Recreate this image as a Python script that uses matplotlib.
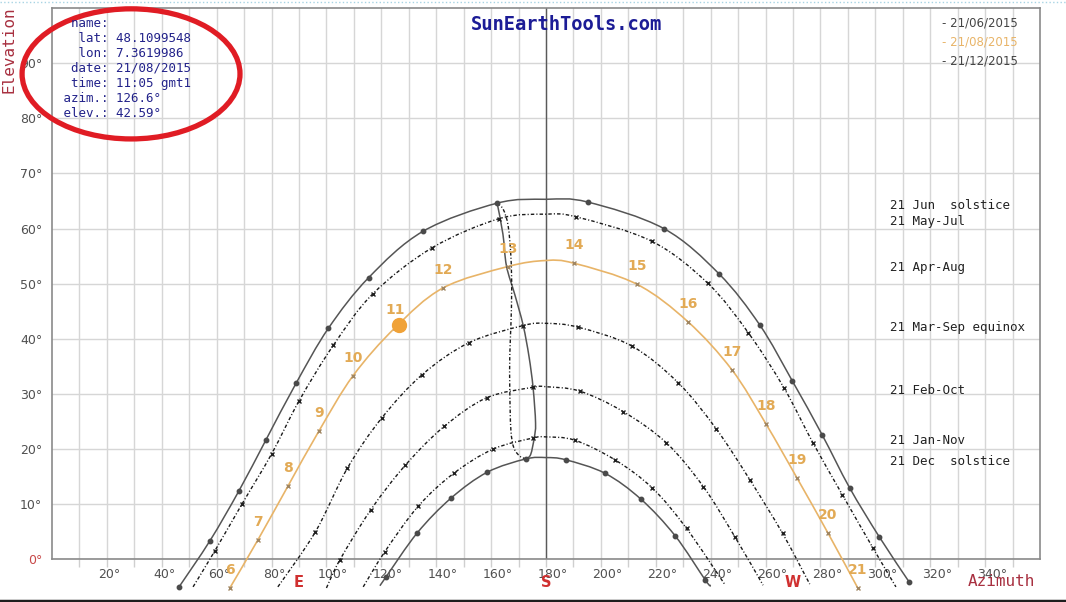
import numpy as np
import matplotlib.pyplot as plt
from matplotlib.path import Path
from matplotlib.patches import PathPatch, Ellipse
from matplotlib.transforms import ScaledTranslation
from matplotlib.lines import Line2D

# ---- data (azimuth deg, elevation deg) ----
# hourly points of each sun path
jun_az = [46.3, 57.6, 68.1, 78.0, 88.9, 100.7, 115.4, 135.2, 162.2, 195.2, 222.9, 243.0, 257.9, 269.7, 280.6, 290.6, 301.4, 312.3]
jun_el = [-5.0, 3.4, 12.4, 21.7, 31.9, 41.9, 51.1, 59.5, 64.6, 64.8, 60.0, 51.8, 42.5, 32.4, 22.6, 13.0, 4.1, -4.1]

mayjul_az = [59.3, 69.2, 80.0, 90.1, 102.5, 117.0, 138.5, 163.0, 191.1, 218.5, 238.9, 253.7, 266.7, 277.3, 288.0, 299.2]
mayjul_el = [1.5, 10.0, 19.1, 28.8, 38.8, 48.2, 56.5, 61.8, 62.1, 57.7, 50.1, 41.1, 31.1, 21.1, 11.7, 2.0]

aug_hours = list(range(6, 22))
aug_az = [64.8, 75.0, 86.0, 97.3, 109.7, 125.0, 142.4, 166.1, 190.2, 213.1, 231.7, 247.7, 260.1, 271.4, 282.7, 293.6]
aug_el = [-5.2, 3.5, 13.3, 23.3, 33.3, 42.0, 49.2, 53.1, 53.7, 49.9, 43.1, 34.4, 24.6, 14.8, 4.8, -5.2]

equ_az = [96.0, 107.6, 120.1, 134.9, 152.0, 171.7, 191.7, 211.2, 228.2, 242.1, 254.3, 266.2]
equ_el = [5.0, 16.5, 25.6, 33.5, 39.3, 42.4, 42.1, 38.7, 32.0, 23.6, 14.4, 4.7]

febokt_az = [104.9, 116.2, 128.8, 142.9, 158.4, 175.3, 192.3, 208.1, 223.9, 237.3, 248.8]
febokt_el = [-0.1, 9.0, 17.1, 24.1, 29.3, 31.2, 30.5, 26.8, 21.1, 13.2, 4.1]

jannov_az = [121.3, 133.4, 146.4, 160.8, 175.3, 190.5, 205.1, 218.8, 231.2]
jannov_el = [1.4, 9.6, 15.6, 20.0, 22.0, 21.6, 18.05, 12.9, 5.6]

dec_az = [121.7, 133.1, 145.4, 158.6, 172.6, 187.2, 201.5, 214.6, 227.0, 238.1]
dec_el = [-3.2, 4.8, 11.1, 15.8, 18.2, 18.05, 15.6, 10.9, 4.3, -3.8]

# extra points of the lines: ends below horizon and the noon peak
jun_extra = [(180.0, 65.3)]
mayjul_extra = [(51.4, -5.0), (180.0, 62.6), (307.5, -5.0)]
aug_extra = [(180.0, 54.2)]
equ_extra = [(82.3, -5.0), (180.0, 42.8), (276.1, -4.5)]
febokt_extra = [(100.0, -5.2), (180.0, 31.3), (259.1, -4.7)]
jannov_extra = [(113.4, -5.0), (180.0, 22.2), (245.2, -4.6)]
dec_extra = [(119.5, -4.8), (180.0, 18.45), (240.0, -4.8)]

# analemma at 13:00
ana_solid_az = [162.2, 164.3, 165.6, 168.7, 171.7, 173.8, 175.3, 176.2, 175.7, 174.4, 172.7]
ana_solid_el = [64.6, 59.0, 53.2, 47.9, 42.4, 36.8, 31.1, 24.7, 22.0, 19.0, 18.2]
ana_dot_az = [162.2, 164.4, 166.2, 167.2, 167.5, 167.2, 166.8, 166.8, 167.2, 168.3, 170.5, 172.7]
ana_dot_el = [64.6, 63.5, 60.5, 55.0, 49.0, 42.3, 36.8, 30.8, 23.5, 20.2, 18.7, 18.2]

# current position
now_az, now_el = 126.6, 42.59

side_labels = ["21 Jun  solstice", "21 May-Jul", "21 Apr-Aug", "21 Mar-Sep equinox",
               "21 Feb-Oct", "21 Jan-Nov", "21 Dec  solstice"]
side_label_el = [64.1, 61.2, 52.9, 42.1, 30.7, 21.55, 17.7]

legend_dates = ["21/06/2015", "21/08/2015", "21/12/2015"]
info_lines = ["  name:", "   lat: 48.1099548", "   lon: 7.3619986", "  date: 21/08/2015",
              "  time: 11:05 gmt1", " azim.: 126.6°", " elev.: 42.59°"]

W, H = 1066, 602
fig = plt.figure(figsize=(W / 100, H / 100), dpi=100)
ax = fig.add_axes([52 / W, 1 - 559.3 / H, 988 / W, 551.3 / H])
ax.set_xlim(0, 360)
ax.set_ylim(0, 100)


def fx(px):
    return px / W


def fy(py):
    return 1 - py / H


def smooth_path(xs, ys):
    # Catmull-Rom through the read points, drawn as bezier curves
    pts = np.column_stack([xs, ys]).astype(float)
    verts = [pts[0]]
    codes = [Path.MOVETO]
    n = len(pts)
    for i in range(n - 1):
        p0 = pts[i - 1] if i > 0 else pts[i]
        p1, p2 = pts[i], pts[i + 1]
        p3 = pts[i + 2] if i + 2 < n else pts[i + 1]
        verts += [p1 + (p2 - p0) / 6, p2 - (p3 - p1) / 6, p2]
        codes += [Path.CURVE4] * 3
    return Path(verts, codes)


def draw_line(xs, ys, **kw):
    ax.add_patch(PathPatch(smooth_path(xs, ys), fill=False, clip_on=False, zorder=3, **kw))


def merged(az, el, extra):
    pts = sorted(list(zip(az, el)) + extra)
    return [p[0] for p in pts], [p[1] for p in pts]


solid = dict(edgecolor='#555555', linewidth=1.1)
dashdot = dict(edgecolor='#1a1a1a', linewidth=1.0, linestyle=(0, (2.5, 1.5, 0.8, 1.5)))
orange = dict(edgecolor='#e8b468', linewidth=1.2)

# grid and frame
ax.set_xticks(np.arange(10, 360, 10))
ax.set_xticklabels([f"{v}°" if v % 20 == 0 else "" for v in range(10, 360, 10)])
ax.set_yticks(np.arange(0, 100, 10))
ax.set_yticklabels([f"{v}°" for v in range(0, 100, 10)])
ax.grid(True, color='#d6d6d6', linewidth=1.0)
ax.set_axisbelow(True)
ax.tick_params(axis='x', length=6, color='#cfcfcf', width=1, pad=0.5, labelsize=9, labelcolor='#505050')
ax.tick_params(axis='y', length=0, pad=7, labelsize=9, labelcolor='#505050')
for lbl in ax.get_xticklabels():
    lbl.set_horizontalalignment('left')
    lbl.set_transform(lbl.get_transform() + ScaledTranslation(-0.085, 0, fig.dpi_scale_trans))
ax.get_yticklabels()[0].set_color('#c84848')
for s in ax.spines.values():
    s.set_color('#8a8a8a')
    s.set_linewidth(1.2)
ax.axvline(180, color='#5a5a5a', linewidth=1.0, zorder=2)

# sun paths
for az, el, extra, st in [(jun_az, jun_el, jun_extra, solid),
                          (mayjul_az, mayjul_el, mayjul_extra, dashdot),
                          (equ_az, equ_el, equ_extra, dashdot),
                          (febokt_az, febokt_el, febokt_extra, dashdot),
                          (jannov_az, jannov_el, jannov_extra, dashdot),
                          (dec_az, dec_el, dec_extra, solid)]:
    xs, ys = merged(az, el, extra)
    draw_line(xs, ys, **st)

draw_line(*merged(aug_az, aug_el, aug_extra), **orange)
draw_line(ana_solid_az, ana_solid_el, **solid)
draw_line(ana_dot_az, ana_dot_el, **dashdot)

# hour markers
for az, el in [(jun_az, jun_el), (dec_az, dec_el)]:
    ax.plot(az, el, 'o', color='#4a4a4a', markersize=3.2, clip_on=False, zorder=4)
for az, el in [(mayjul_az, mayjul_el), (equ_az, equ_el), (febokt_az, febokt_el), (jannov_az, jannov_el)]:
    ax.plot(az, el, 'x', color='#202020', markersize=3, markeredgewidth=1, clip_on=False, zorder=4)
ax.plot(aug_az, aug_el, 'x', color='#a08662', markersize=3.5, markeredgewidth=1, clip_on=False, zorder=4)
for h, az, el in zip(aug_hours, aug_az, aug_el):
    ax.annotate(str(h), (az, el), xytext=(0, 13), textcoords='offset points', ha='center', va='center',
                fontsize=10, fontweight='bold', color='#e2aa55', annotation_clip=False, zorder=5)
ax.plot([now_az], [now_el], 'o', color='#f0a238', markersize=10, zorder=6)

# side labels
for txt, el in zip(side_labels, side_label_el):
    ax.text(305.3, el, txt, fontsize=9, family='DejaVu Sans Mono', color='#222222', va='center', ha='left')

# compass letters
for az, letter in [(90, 'E'), (180, 'S'), (270, 'W')]:
    ax.text(az, 0, letter, fontsize=10.5, fontweight='bold', color='#d03030', ha='center', va='center',
            transform=ax.get_xaxis_transform() + ScaledTranslation(0, -0.235, fig.dpi_scale_trans))

# titles and labels
fig.text(fx(566), fy(25), "SunEarthTools.com", fontsize=13.5, fontweight='bold',
         family='DejaVu Sans Mono', color='#1c1c96', ha='center', va='center')
fig.text(fx(1001), fy(581), "Azimuth", fontsize=11.5, family='DejaVu Sans Mono',
         color='#a83040', ha='center', va='center')
fig.text(fx(9), fy(50), "Elevation", fontsize=11.5, family='DejaVu Sans Mono',
         color='#a83040', ha='center', va='center', rotation=90)

# legend
for i, (d, c) in enumerate(zip(legend_dates, ['#444444', '#e8b468', '#444444'])):
    fig.text(fx(942), fy(23 + 19 * i), "- " + d, fontsize=8.5, color=c, ha='left', va='center')

# info box
for i, line in enumerate(info_lines):
    fig.text(fx(55.5), fy(23.3 + 15 * i), line, fontsize=9, family='DejaVu Sans Mono',
             color='#22228a', ha='left', va='center')

# red circle around info box
ax.add_patch(Ellipse((28.8, 88.05), 79.4, 23.6, fill=False, edgecolor='#e01c24',
                     linewidth=3.8, clip_on=False, zorder=10))

# screenshot edges
fig.add_artist(Line2D([0, 1], [fy(1.5), fy(1.5)], color='#a8d4e4', linewidth=1, linestyle=':'))
fig.add_artist(Line2D([0, 1], [fy(601), fy(601)], color='#1e1e1e', linewidth=2.5))

fig.savefig("out.png", dpi=100)
